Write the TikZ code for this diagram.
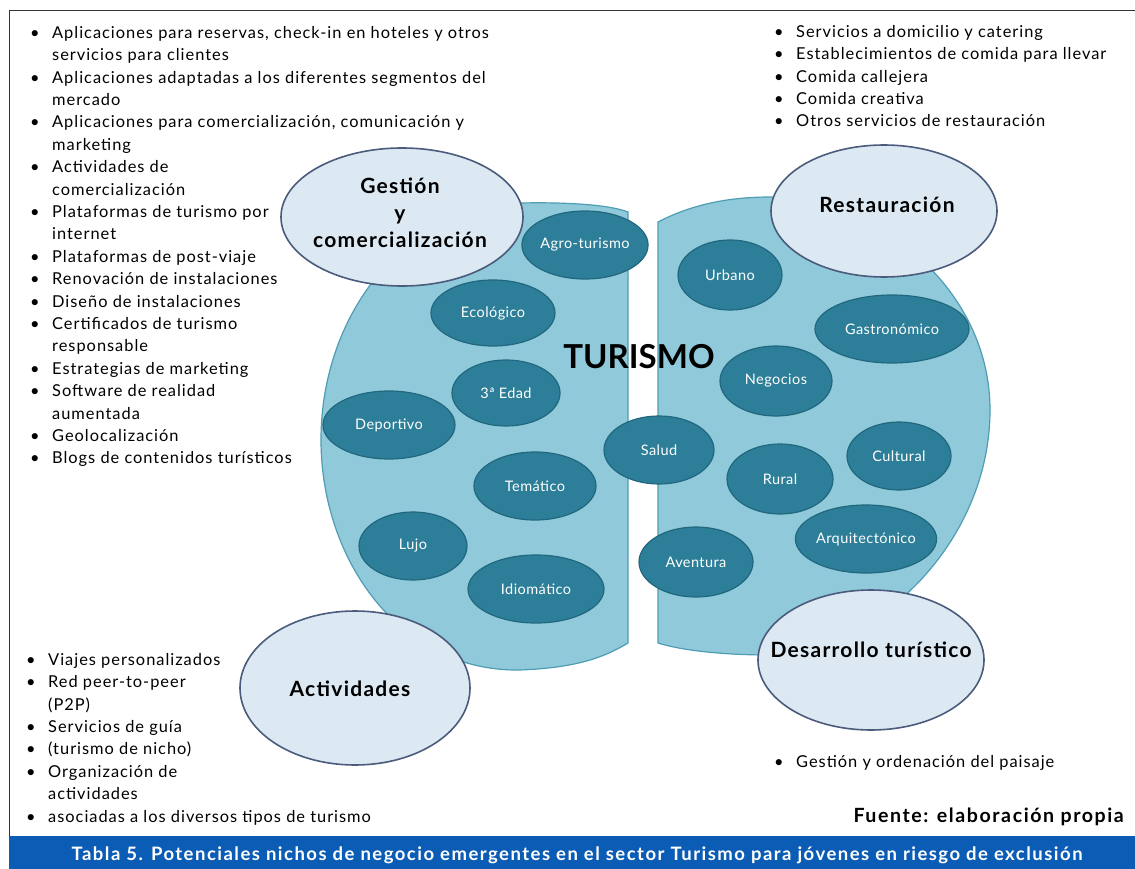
\documentclass[tikz,border=0pt]{standalone}
\usepackage{fontspec}
\setmainfont{Lato}[LetterSpace=6]
\newfontfamily\nichofont{Lato}[LetterSpace=3]
\newfontfamily\titulofont{Lato}[LetterSpace=0]
\newfontfamily\piefont{Lato}[LetterSpace=8]
\usetikzlibrary{positioning,shapes.geometric}
\definecolor{cielo}{HTML}{8FC9DA}
\definecolor{cieloborde}{HTML}{4F9DB3}
\definecolor{nicho}{HTML}{2D7E98}
\definecolor{nichoborde}{HTML}{21677E}
\definecolor{zona}{HTML}{DDE9F2}
\definecolor{zonaborde}{HTML}{4A5B7C}
\definecolor{barra}{HTML}{0B5CB5}
\newcommand\punto{\makebox[22pt][l]{\textbullet}}
\newcommand\sigue{\hspace*{22pt}}

\begin{document}
\begin{tikzpicture}[x=1pt,y=-1pt,
    nicho/.style={ellipse,draw=nichoborde,line width=1.2pt,fill=nicho,text=white,inner sep=0pt,
        font=\nichofont\fontsize{14.5}{16}\selectfont},
    zona/.style={ellipse,draw=zonaborde,line width=1.6pt,fill=zona,inner sep=0pt},
    zonatxt/.style={align=center,inner sep=0pt,font=\fontsize{21}{27}\selectfont\bfseries},
    lista/.style={anchor=north west,align=left,inner sep=0pt,font=\fontsize{16.4}{22.4}\selectfont},
    mitad/.style={fill=cielo,draw=cieloborde,line width=1.2pt}]
        \useasboundingbox (0,0) rectangle (1135,869);
        \draw[line width=0.8pt,black!80] (9,836) -- (9,10) -- (1135,10);

        \filldraw[mitad] (628,212) -- (628,643) .. controls (600,660) and (570,668) .. (520,670)
            .. controls (400,672) and (321,560) .. (321,440) .. controls (321,310) and (410,205) .. (520,203)
            .. controls (570,202) and (610,205) .. (628,212) -- cycle;
        \filldraw[mitad] (658,222) -- (658,643) .. controls (680,650) and (720,655) .. (770,655)
            .. controls (880,650) and (990,540) .. (990,410) .. controls (990,290) and (880,200) .. (770,197)
            .. controls (720,197) and (685,208) .. (658,222) -- cycle;

        \node[nicho,minimum width=114pt,minimum height=68pt] (agro) at (585,245) {Agro-turismo};
        \node[nicho,minimum width=124pt,minimum height=66pt] (eco) at (493,313) {Ecológico};
        \node[nicho,minimum width=108pt,minimum height=66pt] (edad) at (506,393) {3ª Edad};
        \node[nicho,minimum width=132pt,minimum height=68pt] (depo) at (389,425) {Deportivo};
        \node[nicho,minimum width=122pt,minimum height=68pt] (tema) at (535,486) {Temático};
        \node[nicho,minimum width=108pt,minimum height=68pt] (lujo) at (413,546) {Lujo};
        \node[nicho,minimum width=136pt,minimum height=68pt] (idio) at (536,589) {Idiomático};
        \node[nicho,minimum width=110pt,minimum height=68pt] (salud) at (659,450) {Salud};
        \node[nicho,minimum width=104pt,minimum height=70pt] (urb) at (730,275) {Urbano};
        \node[nicho,minimum width=154pt,minimum height=68pt] (gast) at (892,329) {Gastronómico};
        \node[nicho,minimum width=112pt,minimum height=70pt] (nego) at (776,381) {Negocios};
        \node[nicho,minimum width=106pt,minimum height=70pt] (rural) at (780,479) {Rural};
        \node[nicho,minimum width=104pt,minimum height=68pt] (cult) at (899,456) {Cultural};
        \node[nicho,minimum width=116pt,minimum height=68pt] (arq) at (866,539) {Arquitectónico};
        \node[nicho,minimum width=114pt,minimum height=70pt] (aven) at (696,562) {Aventura};

        \node[font=\titulofont\fontsize{33}{33}\selectfont\bfseries,inner sep=0pt] (turismo) at (639,357) {TURISMO};

        \node[zona,minimum width=242pt,minimum height=138pt] (gestion) at (402,217) {};
        \node[zona,minimum width=226pt,minimum height=132pt] (rest) at (884,211) {};
        \node[zona,minimum width=230pt,minimum height=154pt] (act) at (355,688) {};
        \node[zona,minimum width=226pt,minimum height=140pt] (des) at (871,660) {};
        \node[zonatxt] (tgestion) at (400,213) {Gestión\\y\\comercialización};
        \node[zonatxt] (trest) at (887,205) {Restauración};
        \node[zonatxt] (tact) at (350,689) {Actividades};
        \node[zonatxt] (tdes) at (871,650) {Desarrollo turístico};

        \node[lista] (lgestion) at (30,26) {\punto Aplicaciones para reservas, check-in en hoteles y otros\\
            \sigue servicios para clientes\\
            \punto Aplicaciones adaptadas a los diferentes segmentos del\\
            \sigue mercado\\
            \punto Aplicaciones para comercialización, comunicación y\\
            \sigue marketing\\
            \punto Actividades de\\
            \sigue comercialización\\
            \punto Plataformas de turismo por\\
            \sigue internet\\
            \punto Plataformas de post-viaje\\
            \punto Renovación de instalaciones\\
            \punto Diseño de instalaciones\\
            \punto Certificados de turismo\\
            \sigue responsable\\
            \punto Estrategias de marketing\\
            \punto Software de realidad\\
            \sigue aumentada\\
            \punto Geolocalización\\
            \punto Blogs de contenidos turísticos};
        \node[lista] (lrest) at (774,25) {\punto Servicios a domicilio y catering\\
            \punto Establecimientos de comida para llevar\\
            \punto Comida callejera\\
            \punto Comida creativa\\
            \punto Otros servicios de restauración};
        \node[lista] (lact) at (26,653) {\punto Viajes personalizados\\
            \punto Red peer-to-peer\\
            \sigue (P2P)\\
            \punto Servicios de guía\\
            \punto (turismo de nicho)\\
            \punto Organización de\\
            \sigue actividades\\
            \punto asociadas a los diversos tipos de turismo};
        \node[lista] (ldes) at (774,755) {\punto Gestión y ordenación del paisaje};

        \node[anchor=east,inner sep=0pt,font=\piefont\fontsize{19.6}{19.6}\selectfont\bfseries] (fuente) at (1124,817) {Fuente: elaboración propia};
        \fill[barra] (9,836) rectangle (1135,869);
        \node[text=white,inner sep=0pt,font=\piefont\fontsize{18.5}{18.5}\selectfont\bfseries] (tabla) at (577,855)
            {Tabla 5. Potenciales nichos de negocio emergentes en el sector Turismo para jóvenes en riesgo de exclusión};
    \end{tikzpicture}
\end{document}
